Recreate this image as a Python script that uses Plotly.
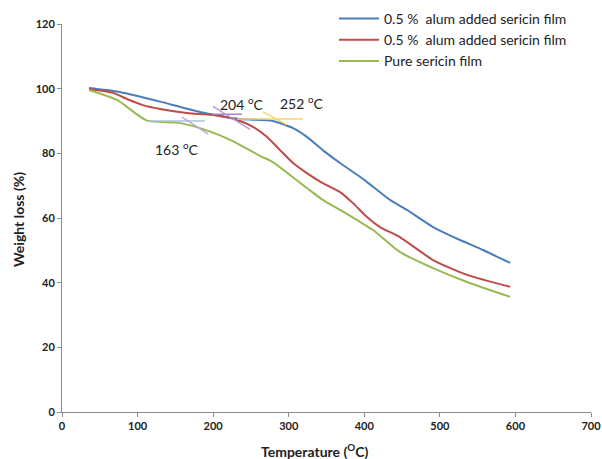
import plotly.graph_objects as go

# ---- data ----
blue_T = [35.7, 72.8, 129.7, 182.6, 235.5, 279, 305.7, 324, 345, 368, 400, 434, 456.5, 491, 526.7, 557, 593]
blue_W = [100.2, 99.1, 96.0, 92.8, 90.6, 90.0, 87.8, 85.1, 81.0, 77.0, 71.8, 65.6, 62.5, 57.2, 53.2, 50.1, 46.1]

red_T = [35.7, 67.5, 86, 107, 129.7, 165.5, 209, 235.5, 252.7, 271, 288.5, 305.7, 324, 345, 368, 385, 403.6, 420.8, 447, 491, 536, 593]
red_W = [99.9, 98.7, 96.8, 94.9, 93.7, 92.5, 91.6, 90.0, 88.2, 85.1, 81.0, 77.0, 73.9, 70.8, 68.0, 64.6, 60.3, 57.2, 54.1, 47.0, 42.4, 38.7]

green_T = [35.7, 72.8, 112.5, 152, 186.6, 226, 262, 279, 301.7, 324, 345, 368, 390, 411.5, 447, 491, 536, 593]
green_W = [99.6, 96.5, 90.1, 89.5, 87.5, 83.8, 79.2, 77.3, 73.3, 69.3, 65.6, 62.5, 59.4, 56.3, 49.5, 44.5, 40.2, 35.6]

series_names = ["0.5 %  alum added sericin film", "0.5 %  alum added sericin film", "Pure sericin film"]

# onset tangent construction lines (x pair, y pair)
tangent_163_h = ([116, 189], [90.0, 90.0])
tangent_163_d = ([158.8, 193.2], [91.2, 86.0])
tangent_204_h = ([198.5, 238.2], [92.1, 92.1])
tangent_204_d = ([199.8, 248.8], [94.5, 87.4])
tangent_252_h = ([231.6, 318.9], [90.6, 90.6])
tangent_252_d = ([266, 297.7], [92.8, 88.8])

onset_labels = ["163 <sup>o</sup>C", "204 <sup>o</sup>C", "252 <sup>o</sup>C"]
onset_label_T = [152, 238, 317.6]
onset_label_W = [81.6, 95.3, 95.6]

x_ticks = [0, 100, 200, 300, 400, 500, 600, 700]
y_ticks = [0, 20, 40, 60, 80, 100, 120]

FONT = "Lato, Open Sans, sans-serif"

fig = go.Figure()
colors = ["#4a7ebb", "#be4b48", "#98b954"]
for T, W, name, c in [(blue_T, blue_W, series_names[0], colors[0]),
                      (red_T, red_W, series_names[1], colors[1]),
                      (green_T, green_W, series_names[2], colors[2])]:
    fig.add_trace(go.Scatter(x=T, y=W, mode="lines", name=name,
                             line=dict(color=c, width=2, shape="spline", smoothing=0.6)))

for (xs, ys), c in [(tangent_163_h, "#a8c0e6"), (tangent_163_d, "#b9a9d6"),
                    (tangent_204_h, "#a184c9"), (tangent_204_d, "#b59ad3"),
                    (tangent_252_h, "#f5d56a"), (tangent_252_d, "#f5d56a")]:
    fig.add_trace(go.Scatter(x=xs, y=ys, mode="lines", showlegend=False,
                             line=dict(color=c, width=1.5), hoverinfo="skip"))

for txt, tx, ty in zip(onset_labels, onset_label_T, onset_label_W):
    fig.add_annotation(x=tx, y=ty, text=txt, showarrow=False,
                       font=dict(family=FONT, size=14, color="#222"))

W_PX, H_PX = 602, 459
ML, MR, MT, MB = 62, 11, 24, 47
pw = W_PX - ML - MR   # 529
ph = H_PX - MT - MB   # 388

# axis titles as paper-anchored annotations
fig.add_annotation(xref="paper", yref="paper", x=(315 - ML) / pw, y=-(450 - (H_PX - MB)) / ph,
                   text="<b>Temperature (<sup>O</sup>C)</b>", showarrow=False,
                   xanchor="center", yanchor="middle",
                   font=dict(family=FONT, size=14, color="#222"))
fig.add_annotation(xref="paper", yref="paper", x=(18 - ML) / pw, y=((H_PX - MB) - 220) / ph,
                   text="<b>Weight loss (%)</b>", showarrow=False, textangle=-90,
                   xanchor="center", yanchor="middle",
                   font=dict(family=FONT, size=14, color="#222"))

fig.update_layout(
    template="none",
    width=W_PX, height=H_PX,
    margin=dict(l=ML, r=MR, t=MT, b=MB, autoexpand=False),
    paper_bgcolor="white", plot_bgcolor="white",
    font=dict(family=FONT, color="#222"),
    showlegend=True,
    legend=dict(x=(334 - ML) / pw, y=1 + 21 / ph, xanchor="left", yanchor="top",
                font=dict(family=FONT, size=14, color="#222"),
                bgcolor="rgba(255,255,255,0)", itemwidth=40,
                tracegroupgap=0),
    xaxis=dict(range=[0, 700], tickvals=x_ticks,
               showgrid=False, zeroline=False, automargin=False,
               showline=True, linecolor="#8c8c8c", linewidth=1,
               ticks="outside", ticklen=4, tickcolor="#8c8c8c",
               ticklabeloverflow="allow",
               tickfont=dict(family=FONT, size=11, color="#222", weight="bold")),
    yaxis=dict(range=[0, 120], tickvals=y_ticks,
               showgrid=False, zeroline=False, automargin=False,
               showline=True, linecolor="#8c8c8c", linewidth=1,
               ticks="outside", ticklen=4, tickcolor="#8c8c8c",
               tickfont=dict(family=FONT, size=11, color="#222", weight="bold")),
)

fig.write_html("out.html", config={"displayModeBar": False},
               post_script="document.body.style.margin='0';document.body.style.overflow='hidden';")
